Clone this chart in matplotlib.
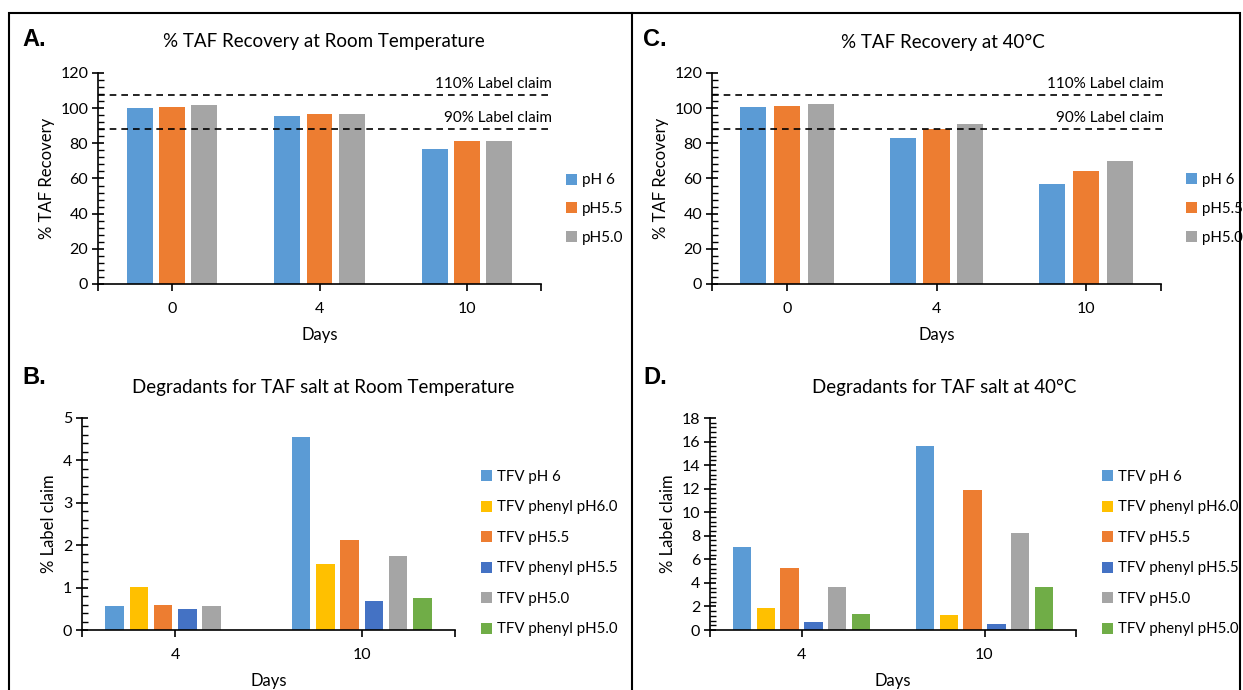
import numpy as np
import matplotlib
matplotlib.use('Agg')
import matplotlib.pyplot as plt
from matplotlib.lines import Line2D
from matplotlib.patches import Rectangle
from matplotlib.ticker import MultipleLocator

plt.rcParams['font.family'] = ['Lato', 'DejaVu Sans']

# --- data ---
recovery_days = ['0', '4', '10']
recovery_series = ['pH 6', 'pH5.5', 'pH5.0']
recovery_rt = [
    [100.2, 95.6, 76.9],   # pH 6
    [100.7, 96.8, 81.5],   # pH5.5
    [101.9, 96.8, 81.1],   # pH5.0
]
recovery_40 = [
    [100.6, 82.8, 57.1],
    [101.1, 87.9, 64.1],
    [102.3, 90.8, 69.9],
]
claim_levels = [107.5, 88.0]
claim_labels = ['110% Label claim', '90% Label claim']

degr_days = ['4', '10']
degr_series = ['TFV pH 6', 'TFV phenyl pH6.0', 'TFV pH5.5',
               'TFV phenyl pH5.5', 'TFV pH5.0', 'TFV phenyl pH5.0']
degr_rt = [
    [0.57, 4.55],
    [1.02, 1.55],
    [0.58, 2.12],
    [0.49, 0.69],
    [0.57, 1.75],
    [0.0, 0.76],
]
degr_40 = [
    [7.08, 15.65],
    [1.84, 1.25],
    [5.27, 11.90],
    [0.71, 0.54],
    [3.63, 8.27],
    [1.33, 3.63],
]

rec_colors = ['#5B9BD5', '#ED7D31', '#A5A5A5']
deg_colors = ['#5B9BD5', '#FFC000', '#ED7D31', '#4472C4', '#A5A5A5', '#70AD47']

W, H = 1243, 690
fig = plt.figure(figsize=(W / 100, H / 100), dpi=100)


def fx(px):
    return px / W


def fy(py):
    return 1 - py / H


def style_axis(ax, ymax, major, minor, ncat):
    ax.set_xlim(-0.5, ncat - 0.5)
    ax.set_ylim(0, ymax)
    ax.yaxis.set_major_locator(MultipleLocator(major))
    ax.yaxis.set_minor_locator(MultipleLocator(minor))
    for s in ['top', 'right']:
        ax.spines[s].set_visible(False)
    for s in ['left', 'bottom']:
        ax.spines[s].set_linewidth(1.2)
    ax.tick_params(axis='y', which='major', direction='inout', length=8, width=1.2, labelsize=11.5, pad=3)
    ax.tick_params(axis='y', which='minor', direction='in', length=4, width=1.0)
    ax.tick_params(axis='x', which='major', direction='out', length=5, width=1.2, labelsize=11.5, pad=8)
    ax.set_xticks([-0.5, ncat - 0.5], minor=True)
    ax.tick_params(axis='x', which='minor', direction='out', length=5, width=1.2)


def draw_bars(ax, values, colors, labels, cats, step, width):
    n = len(values)
    x = np.arange(len(cats))
    for i, (vals, c, lab) in enumerate(zip(values, colors, labels)):
        ax.bar(x + (i - (n - 1) / 2) * step, vals, width, color=c, label=lab, zorder=2)
    ax.set_xticks(x)
    ax.set_xticklabels(cats)


def draw_claims(ax, xmax):
    for lvl, lab in zip(claim_levels, claim_labels):
        ax.axhline(lvl, xmin=0, xmax=xmax, color='black', linestyle=(0, (4, 3)),
                   linewidth=1.2, clip_on=False, zorder=3)
        ax.annotate(lab, xy=(xmax, lvl), xycoords=('axes fraction', 'data'),
                    xytext=(0, 3), textcoords='offset points',
                    ha='right', va='bottom', fontsize=11)


def add_legend(ax, px, py, size, spacing):
    ax.legend(loc='center left', bbox_to_anchor=(fx(px), fy(py)), bbox_transform=fig.transFigure,
              frameon=False, fontsize=size, handlelength=0.75, handleheight=0.75,
              handletextpad=0.3, labelspacing=spacing, borderaxespad=0, borderpad=0)


def axes_at(left, right, top, bottom):
    return fig.add_axes([fx(left), fy(bottom), fx(right) - fx(left), fy(top) - fy(bottom)])


# Panel A
axA = axes_at(98, 541, 73, 284)
draw_bars(axA, recovery_rt, rec_colors, recovery_series, recovery_days, 0.218, 0.175)
style_axis(axA, 120, 20, 4, 3)
draw_claims(axA, 1.024)
axA.set_ylabel('% TAF Recovery', fontsize=12)
axA.set_xlabel('Days', fontsize=12, labelpad=8)
add_legend(axA, 566, 209, 11, 0.95)

# Panel C
axC = axes_at(712, 1161, 73, 284)
draw_bars(axC, recovery_40, rec_colors, recovery_series, recovery_days, 0.226, 0.175)
style_axis(axC, 120, 20, 4, 3)
draw_claims(axC, 1.007)
axC.set_ylabel('% TAF Recovery', fontsize=12)
axC.set_xlabel('Days', fontsize=12, labelpad=8)
add_legend(axC, 1186, 209, 10.8, 1.0)

# Panel B
axB = axes_at(82, 455, 418, 630)
draw_bars(axB, degr_rt, deg_colors, degr_series, degr_days, 0.13, 0.10)
style_axis(axB, 5, 1, 0.2, 2)
axB.set_ylabel('% Label claim', fontsize=12)
axB.set_xlabel('Days', fontsize=12, labelpad=8)
add_legend(axB, 481, 553, 10.8, 1.1)

# Panel D
axD = axes_at(710, 1076, 418, 630)
draw_bars(axD, degr_40, deg_colors, degr_series, degr_days, 0.13, 0.10)
style_axis(axD, 18, 2, 0.4, 2)
axD.set_ylabel('% Label claim', fontsize=12)
axD.set_xlabel('Days', fontsize=12, labelpad=8)
add_legend(axD, 1102, 553, 10.8, 1.1)

# chart titles (centred over chart area incl. legend)
titles = [('% TAF Recovery at Room Temperature', 324, 42),
          ('% TAF Recovery at 40°C', 943, 42),
          ('Degradants for TAF salt at Room Temperature', 323, 387),
          ('Degradants for TAF salt at 40°C', 944, 387)]
for t, px, py in titles:
    fig.text(fx(px), fy(py), t, fontsize=13.5, ha='center', va='center')

# panel letters
for lab, px, py in [('A.', 22, 40), ('C.', 643, 40), ('B.', 22, 378), ('D.', 643, 378)]:
    fig.text(fx(px), fy(py), lab, fontsize=17, fontweight='bold', family='Liberation Sans',
             ha='left', va='center')

# outer frame and divider
fig.add_artist(Rectangle((fx(9), -0.05), fx(1240) - fx(9), fy(13) + 0.05, transform=fig.transFigure,
                         fill=False, edgecolor='black', linewidth=1.5))
fig.add_artist(Line2D([fx(632), fx(632)], [-0.05, fy(13)], transform=fig.transFigure,
                      color='black', linewidth=1.5))

fig.savefig('out.png', dpi=100)
